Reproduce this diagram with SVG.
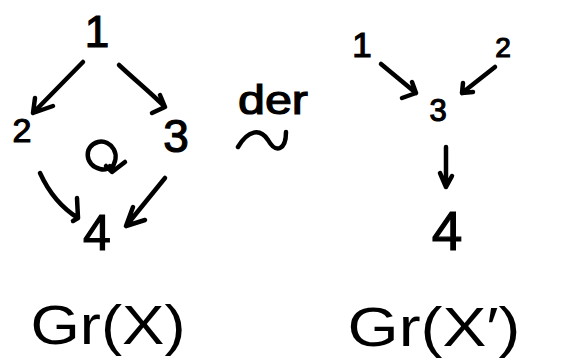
<svg xmlns="http://www.w3.org/2000/svg" width="572" height="361" viewBox="0 0 572 361">
<style>
.t{font-family:"Liberation Sans",Arial,sans-serif;fill:#000;text-anchor:middle;stroke:#000;stroke-width:1.2}
.g{font-family:"Liberation Sans",Arial,sans-serif;fill:#000;text-anchor:middle}
.s{fill:none;stroke:#000;stroke-width:4.5;stroke-linecap:round;stroke-linejoin:round}
</style>
<rect width="572" height="361" fill="#fff"/>
<g id="L1"><text class="t" x="97" y="47" font-size="44">1</text></g>
<g id="L2"><text class="t" x="22" y="142" font-size="34">2</text></g>
<g id="L3"><text class="t" x="176" y="152" font-size="46">3</text></g>
<g id="L4"><text class="t" x="97" y="250" font-size="50">4</text></g>
<g id="R1"><text class="t" x="362" y="57" font-size="35">1</text></g>
<g id="R2"><text class="t" x="503" y="57" font-size="28">2</text></g>
<g id="R3"><text class="t" x="438" y="121" font-size="31">3</text></g>
<g id="R4"><text class="t" x="447" y="250" font-size="55">4</text></g>
<g id="der">
<text class="t" x="273" y="114" font-size="40" textLength="70" lengthAdjust="spacingAndGlyphs">der</text>
<path class="s" d="M238,147 C248,130 260,128 268,140 C276,154 286,150 286,132"/>
</g>
<g id="labels">
<text class="g" x="108" y="344" font-size="56" textLength="155" lengthAdjust="spacingAndGlyphs">Gr(X)</text>
<text class="g" x="434" y="346" font-size="56" textLength="173" lengthAdjust="spacingAndGlyphs">Gr(X′)</text>
</g>
<g id="connectors">
<path class="s" d="M83,62 L33,113 M35,98 L33,113 L53,106"/>
<path class="s" d="M119,65 C135,80 150,92 165,107 M160,95 L165,107 L152,113"/>
<path class="s" d="M40,173 C50,195 62,208 78,218 M77,198 L78,218 L73,221"/>
<path class="s" d="M165,178 L126,226 M133,207 L126,226 L145,220"/>
<path class="s" d="M110,170 C123,155 111,139 98,142 C83,146 85,166 100,169 C104,170 108,169 110,166 M106,166 L112,172 L125,162"/>
<path class="s" d="M381,64 L416,93 M402,98 L416,93 L412,82"/>
<path class="s" d="M495,67 L462,93 M463,83 L462,93 L473,92"/>
<path class="s" d="M446,147 L446,187 M440,173 L446,187 L452,176"/>
</g>
</svg>
